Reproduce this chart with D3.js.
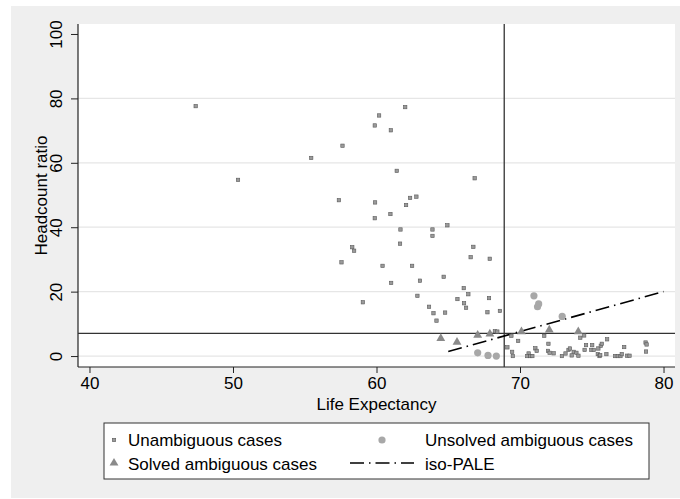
<!doctype html>
<html>
<head>
<script src="https://d3js.org/d3.v7.min.js"></script>
<style>
  body { margin: 0; background: #fff; }
  svg text { font-family: "Liberation Sans", Arial, sans-serif; fill: #000; }
</style>
</head>
<body>
<script>
// life expectancy vs headcount ratio
const unambiguous = [
  [47.4, 77.6], [50.35, 54.7], [55.45, 61.5], [57.38, 48.4], [62.0, 77.3], [60.18, 74.7],
  [59.88, 71.6], [61.0, 70.1], [57.63, 65.3], [61.41, 57.5], [66.84, 55.2], [59.9, 47.7],
  [62.34, 49.1], [62.78, 49.5], [62.06, 46.9], [59.88, 42.8], [60.97, 44.1], [61.67, 39.3],
  [63.9, 39.3], [64.94, 40.6], [63.9, 37.3], [61.64, 34.9], [66.75, 33.9], [58.31, 33.8],
  [58.44, 32.7], [66.56, 30.7], [67.89, 30.2], [57.56, 29.1], [60.42, 28.0], [62.48, 28.0],
  [61.02, 22.7], [63.03, 23.4], [64.68, 24.6], [66.08, 21.1], [66.4, 19.2], [62.85, 18.7],
  [65.64, 17.7], [67.84, 18.0], [59.05, 16.7], [63.66, 15.3], [63.97, 13.3], [64.18, 11.0],
  [64.78, 13.5], [66.1, 16.4], [66.24, 15.0], [67.73, 13.6], [68.6, 14.0], [68.25, 7.7],
  [68.42, 7.6],
  [69.4, 6.3], [69.87, 4.7], [69.12, 2.7], [69.45, 1.3], [69.5, 0], [70.6, 0.8], [70.5, 0],
  [70.72, 0], [70.86, 0], [71.07, 2.4], [71.16, 1.6], [71.69, 6.3], [71.98, 3.8], [71.95, 1.6],
  [72.06, 1.0], [72.34, 0.85], [72.92, 0], [73.17, 0.8], [73.38, 1.9], [73.48, 2.35], [73.6, 0.2],
  [73.74, 1.3], [73.93, 1.0], [74.07, 0.1], [74.2, 5.7], [74.47, 6.4], [74.6, 3.4], [74.5, 1.9],
  [75.03, 3.4], [74.97, 1.9], [75.14, 1.9], [75.46, 2.35], [75.63, 3.2], [75.7, 3.8], [76.07, 5.2],
  [75.42, 0.6], [75.54, 0], [75.59, 0.3], [76.02, 0.6], [76.63, 0], [76.81, 0], [77.0, 0],
  [77.09, 0.6], [77.26, 2.8], [77.47, 0.1], [77.63, 0.1], [78.75, 4.2], [78.82, 3.6], [78.78, 1.4]
];
const solved = [[64.48, 5.5], [65.61, 4.3], [67.05, 6.5], [67.9, 6.9], [70.1, 7.6], [72.04, 8.1], [74.06, 7.55]];
const unsolved = [[67.05, 1.0], [67.77, 0.2], [68.35, 0.0], [70.97, 18.7], [71.3, 16.2], [71.22, 15.3], [72.94, 12.3]];
const isoPale = [[65.0, 1.4], [80.0, 20.0]];
const leThreshold = 68.9;
const hcThreshold = 7.05;
const xTicks = [40, 50, 60, 70, 80];
const yTicks = [0, 20, 40, 60, 80, 100];
const gridTicks = [0, 20, 40, 60, 80];

const W = 680, H = 499;
const pLeft = 78, pRight = 675, pTop = 24, pBottom = 367;

const svg = d3.select("body").append("svg").attr("width", W).attr("height", H);

// grey graph region
svg.append("rect").attr("x", 11).attr("y", 6).attr("width", W - 11).attr("height", 492).attr("fill", "#efefef");
svg.append("rect").attr("x", pLeft).attr("y", pTop).attr("width", pRight - pLeft).attr("height", pBottom - pTop).attr("fill", "#fff");

const x = d3.scaleLinear().domain([39.2, 80.8]).range([pLeft, pRight]);
const y = d3.scaleLinear().domain([-3.4, 103.1]).range([pBottom, pTop]);

// gridlines
svg.append("g").selectAll("line").data(gridTicks).join("line")
  .attr("x1", pLeft).attr("x2", pRight)
  .attr("y1", d => y(d)).attr("y2", d => y(d))
  .attr("stroke", "#e6e6e6").attr("stroke-width", 1.2);

// axes
const xAxis = svg.append("g").attr("transform", `translate(0,${pBottom})`)
  .call(d3.axisBottom(x).tickValues(xTicks).tickSize(6).tickPadding(4).tickFormat(d3.format("d")));
const yAxis = svg.append("g").attr("transform", `translate(${pLeft},0)`)
  .call(d3.axisLeft(y).tickValues(yTicks).tickSize(7).tickFormat(d3.format("d")));
[xAxis, yAxis].forEach(g => {
  g.select(".domain").attr("stroke", "#222").attr("stroke-width", 1.2);
  g.selectAll(".tick line").attr("stroke", "#222").attr("stroke-width", 1);
});
xAxis.select(".domain").attr("d", `M${pLeft},0H${pRight}`);
yAxis.select(".domain").attr("d", `M0,${pTop}V${pBottom}`);
xAxis.selectAll("text").attr("font-size", 17).attr("fill", "#000")
  .attr("font-family", "Liberation Sans, Arial, sans-serif");
yAxis.selectAll("text").attr("font-size", 17).attr("fill", "#000")
  .attr("font-family", "Liberation Sans, Arial, sans-serif")
  .attr("text-anchor", "middle").attr("dy", 0)
  .attr("transform", "translate(-16,0) rotate(-90)").attr("x", 0).attr("y", 0);

// axis titles
svg.append("text").attr("x", (pLeft + pRight) / 2).attr("y", 410).attr("text-anchor", "middle")
  .attr("font-size", 17).text("Life Expectancy");
svg.append("text").attr("transform", `translate(47,${(pTop + pBottom) / 2}) rotate(-90)`)
  .attr("text-anchor", "middle").attr("font-size", 17).text("Headcount ratio");

// threshold lines
svg.append("line").attr("x1", x(leThreshold)).attr("x2", x(leThreshold)).attr("y1", pTop).attr("y2", pBottom)
  .attr("stroke", "#333").attr("stroke-width", 1.3);
svg.append("line").attr("x1", pLeft).attr("x2", pRight).attr("y1", y(hcThreshold)).attr("y2", y(hcThreshold))
  .attr("stroke", "#333").attr("stroke-width", 1.3);

// iso-PALE line
const dashDot = "14,5,1.5,5";
svg.append("path").datum(isoPale)
  .attr("d", d3.line().x(d => x(d[0])).y(d => y(d[1])))
  .attr("fill", "none").attr("stroke", "#000").attr("stroke-width", 1.6).attr("stroke-dasharray", dashDot);

// markers
const tri = d3.symbol().type(d3.symbolTriangle).size(34);
const markSquare = (sel, cx, cy) => {
  sel.append("rect").attr("x", cx - 1.7).attr("y", cy - 1.7).attr("width", 3.4).attr("height", 3.4)
    .attr("fill", "#9a9a9a").attr("stroke", "#5a5a5a").attr("stroke-width", 0.6);
};
const pts = svg.append("g");
unambiguous.forEach(d => markSquare(pts, x(d[0]), y(d[1])));
pts.selectAll("path.solved").data(solved).join("path").attr("class", "solved")
  .attr("d", tri).attr("transform", d => `translate(${x(d[0])},${y(d[1])})`)
  .attr("fill", "#8a8a8a");
pts.selectAll("circle.unsolved").data(unsolved).join("circle").attr("class", "unsolved")
  .attr("cx", d => x(d[0])).attr("cy", d => y(d[1])).attr("r", 3.6)
  .attr("fill", "#a8a8a8");

// legend
const lg = svg.append("g");
lg.append("rect").attr("x", 104).attr("y", 423).attr("width", 545).attr("height", 56)
  .attr("fill", "#fff").attr("stroke", "#333").attr("stroke-width", 1);
markSquare(lg, 114, 440);
lg.append("path").attr("d", tri).attr("transform", "translate(114,463)").attr("fill", "#8a8a8a");
lg.append("circle").attr("cx", 382).attr("cy", 440).attr("r", 3.6).attr("fill", "#a8a8a8");
lg.append("line").attr("x1", 350).attr("x2", 414).attr("y1", 463).attr("y2", 463)
  .attr("stroke", "#000").attr("stroke-width", 1.6).attr("stroke-dasharray", dashDot);
const legendText = [["Unambiguous cases", 128, 446], ["Solved ambiguous cases", 128, 470],
  ["Unsolved ambiguous cases", 425, 446], ["iso-PALE", 425, 470]];
lg.selectAll("text").data(legendText).join("text")
  .attr("x", d => d[1]).attr("y", d => d[2]).attr("font-size", 17).text(d => d[0]);
</script>
</body>
</html>
